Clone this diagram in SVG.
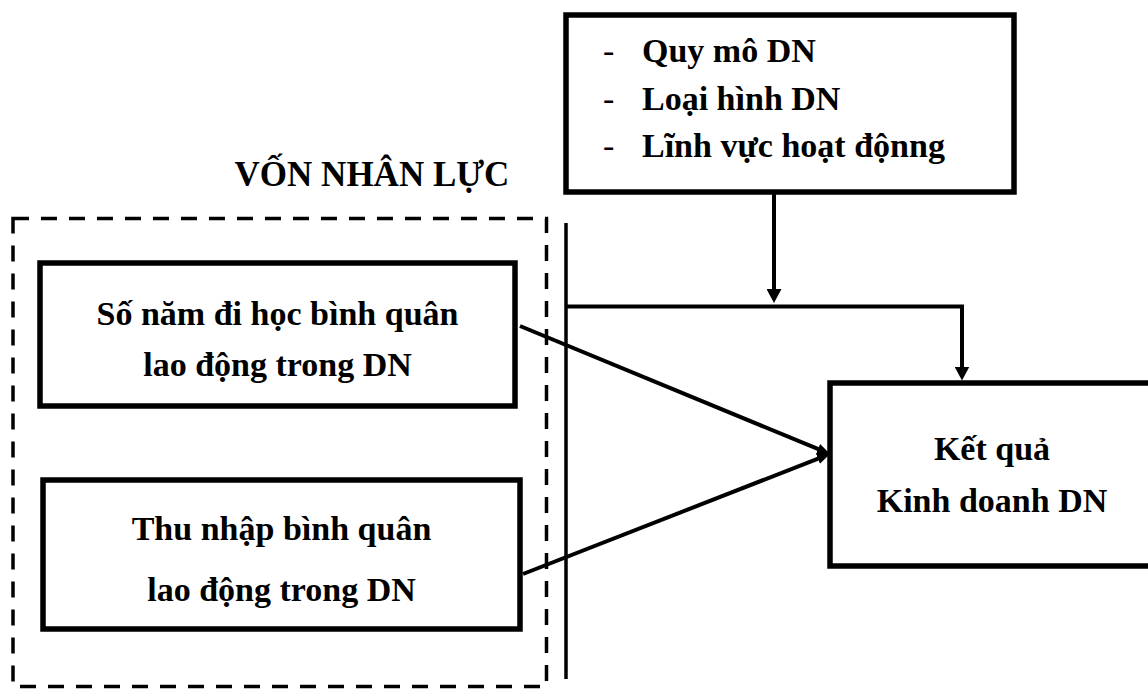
<svg xmlns="http://www.w3.org/2000/svg" width="1148" height="689" viewBox="0 0 1148 689">
<style>
  .t { font-family: "Liberation Serif", "Times New Roman", serif; font-weight: bold; font-size: 34px; fill: #000; }
  .tc { text-anchor: middle; }
  .box { fill: #fff; stroke: #000; stroke-width: 5.5; }
  .conn { fill: none; stroke: #000; stroke-width: 4; stroke-linejoin: miter; }
</style>
<defs>
  <marker id="arrowBig" viewBox="0 0 14 15" refX="4" refY="7.5" markerWidth="14" markerHeight="15" markerUnits="userSpaceOnUse" orient="auto">
    <path d="M0,0 L14,7.5 L0,15 z" fill="#000"/>
  </marker>
  <marker id="arrowSmall" viewBox="0 0 13 11" refX="3" refY="5.5" markerWidth="13" markerHeight="11" markerUnits="userSpaceOnUse" orient="auto">
    <path d="M0,0 L13,5.5 L0,11 z" fill="#000"/>
  </marker>
</defs>
<rect width="1148" height="689" fill="#fff"/>

<g id="group-von-nhan-luc">
  <rect x="13" y="218.5" width="533.5" height="468" fill="none" stroke="#000" stroke-width="3.5" stroke-dasharray="16 12"/>
  <text class="t tc" x="372" y="186" style="font-size:35px">VỐN NHÂN LỰC</text>
</g>

<g id="node-so-nam">
  <rect class="box" x="40" y="263" width="475" height="143"/>
  <text class="t tc" x="277.5" y="325">Số năm đi học bình quân</text>
  <text class="t tc" x="277.5" y="376">lao động trong DN</text>
</g>

<g id="node-thu-nhap">
  <rect class="box" x="43" y="480" width="477" height="149"/>
  <text class="t tc" x="281.5" y="540">Thu nhập bình quân</text>
  <text class="t tc" x="281.5" y="601">lao động trong DN</text>
</g>

<g id="node-dac-diem">
  <rect class="box" x="566" y="15" width="448" height="177" stroke-width="5"/>
  <text class="t" x="603" y="62" style="font-weight:normal">-</text>
  <text class="t" x="642" y="62">Quy mô DN</text>
  <text class="t" x="603" y="110" style="font-weight:normal">-</text>
  <text class="t" x="642" y="110">Loại hình DN</text>
  <text class="t" x="603" y="157" style="font-weight:normal">-</text>
  <text class="t" x="642" y="157">Lĩnh vực hoạt độnng</text>
</g>

<g id="node-ket-qua">
  <rect class="box" x="830" y="383" width="330" height="183"/>
  <text class="t tc" x="992" y="460">Kết quả</text>
  <text class="t tc" x="992" y="512">Kinh doanh DN</text>
</g>

<g id="connectors">
  <line x1="566" y1="223" x2="566" y2="679" stroke="#000" stroke-width="3.5"/>
  <path class="conn" d="M774,194 V293" marker-end="url(#arrowBig)"/>
  <path class="conn" d="M566,306.5 H962 V370.5" marker-end="url(#arrowBig)"/>
  <path class="conn" d="M520,326 L820.8,450.2" marker-end="url(#arrowSmall)"/>
  <path class="conn" d="M523,574 L820.7,457.6" marker-end="url(#arrowSmall)"/>
</g>
</svg>
